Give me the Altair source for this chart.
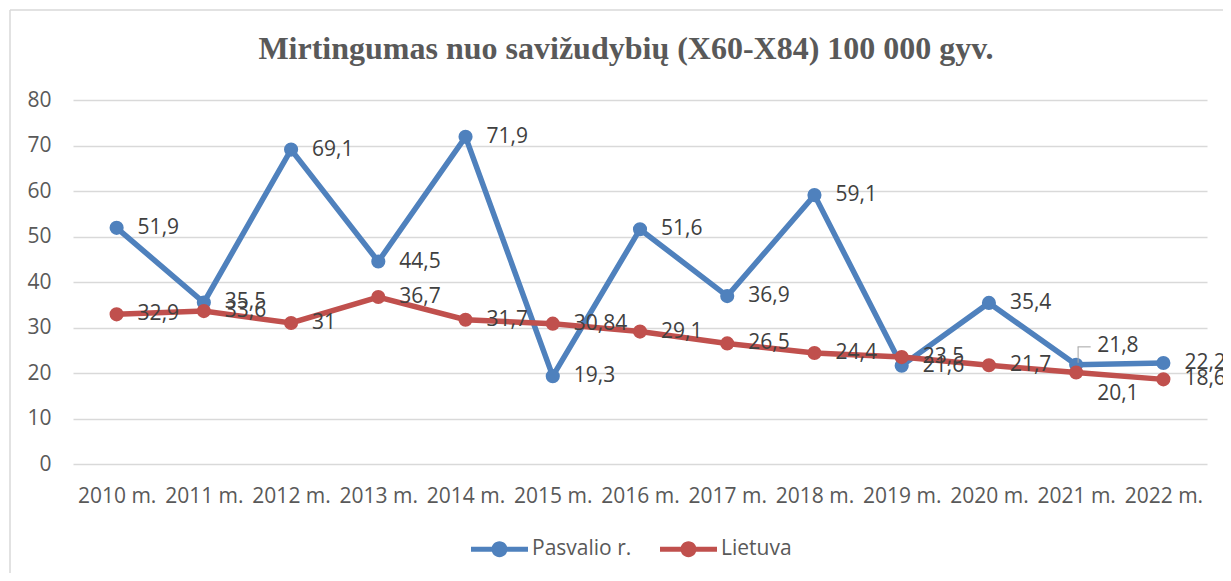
import altair as alt
import pandas as pd

years = ["2010 m.", "2011 m.", "2012 m.", "2013 m.", "2014 m.", "2015 m.", "2016 m.",
         "2017 m.", "2018 m.", "2019 m.", "2020 m.", "2021 m.", "2022 m."]
pasvalio = [51.9, 35.5, 69.1, 44.5, 71.9, 19.3, 51.6, 36.9, 59.1, 21.6, 35.4, 21.8, 22.2]
lietuva = [32.9, 33.6, 31, 36.7, 31.7, 30.84, 29.1, 26.5, 24.4, 23.5, 21.7, 20.1, 18.6]
series_names = ["Pasvalio r.", "Lietuva"]
colors = ["#4f81bd", "#c0504d"]
y_ticks = [0, 10, 20, 30, 40, 50, 60, 70, 80]
title_text = "Mirtingumas nuo savižudybių (X60-X84) 100 000 gyv."

rows = []
for name, vals in zip(series_names, [pasvalio, lietuva]):
    for yr, v in zip(years, vals):
        rows.append({"year": yr, "series": name, "value": v,
                     "label": f"{v:g}".replace(".", ",")})
df = pd.DataFrame(rows)

FONT = "Open Sans"
TXT = "#595959"
W, H = 1134, 364
PAD = {"left": 65, "top": 92, "right": 16, "bottom": 109}

x_enc = alt.X("year:N", sort=years, scale=alt.Scale(type="point", padding=0.5),
              axis=alt.Axis(title=None, labelAngle=0, ticks=False, domain=False, grid=False,
                            labelPadding=21, labelFontSize=21, labelFont=FONT,
                            labelColor=TXT, labelOverlap=False, labelFlush=False))
y_enc = alt.Y("value:Q", scale=alt.Scale(domain=[0, 80], nice=False),
              axis=alt.Axis(title=None, values=y_ticks, domain=False, ticks=False,
                            labelPadding=22, labelFontSize=21, labelFont=FONT,
                            labelColor=TXT, gridColor="#d9d9d9", gridWidth=1.5))

legend_path = ("M-1,-0.09 L1,-0.09 L1,0.09 L-1,0.09 Z "
               "M0.28,0 A0.28,0.28 0 1,1 -0.28,0 A0.28,0.28 0 1,1 0.28,0 Z")
fill_enc = alt.Fill("series:N", scale=alt.Scale(domain=series_names, range=colors),
                    legend=alt.Legend(title=None, orient="none", legendX=398, legendY=420.5,
                                      direction="horizontal", symbolType=legend_path,
                                      symbolSize=3249, symbolStrokeWidth=0, symbolOpacity=1,
                                      labelFontSize=21, labelFont=FONT, labelColor=TXT,
                                      labelOffset=4, columnPadding=28, padding=0))

base = alt.Chart(df)
layers = []
for name, col in zip(series_names, colors):
    sub = base.transform_filter(alt.datum.series == name)
    layers.append(sub.mark_line(color=col, strokeWidth=5.5).encode(x=x_enc, y=y_enc))
    layers.append(sub.mark_circle(size=200, opacity=1).encode(x=x_enc, y=y_enc, fill=fill_enc))

lbl = dict(align="left", baseline="middle", dx=21, fontSize=21, font=FONT, color="#404040")
layers.append(base.transform_filter(alt.datum.year != "2021 m.")
              .mark_text(**lbl).encode(x=x_enc, y=y_enc, text="label:N"))
p21 = base.transform_filter((alt.datum.year == "2021 m.") & (alt.datum.series == "Pasvalio r."))
l21 = base.transform_filter((alt.datum.year == "2021 m.") & (alt.datum.series == "Lietuva"))
layers.append(p21.mark_text(dy=-19, **lbl).encode(x=x_enc, y=y_enc, text="label:N"))
layers.append(l21.mark_text(dy=21, **lbl).encode(x=x_enc, y=y_enc, text="label:N"))
# leader line
layers.append(p21.mark_tick(orient="vertical", size=16, thickness=1.5, color="#a6a6a6",
                            xOffset=2, yOffset=-10).encode(x=x_enc, y=y_enc))
layers.append(p21.mark_tick(orient="horizontal", size=13, thickness=1.5, color="#a6a6a6",
                            xOffset=8, yOffset=-18).encode(x=x_enc, y=y_enc))

# chart frame (left and top edges)
frame = alt.Chart(alt.Data(values=[{"k": 1}]))
layers.append(frame.mark_rule(color="#d9d9d9", strokeWidth=1.5)
              .encode(x=alt.value(-63), x2=alt.value(W + PAD["right"]), y=alt.value(-90)))
layers.append(frame.mark_rule(color="#d9d9d9", strokeWidth=1.5)
              .encode(x=alt.value(-63), y=alt.value(-90), y2=alt.value(H + PAD["bottom"])))

chart = alt.layer(*layers).properties(
    width=W, height=H,
    title=alt.Title(title_text, font="Liberation Serif", fontSize=32, fontWeight="bold",
                    color=TXT, anchor="middle", dx=-14, offset=-57),
    autosize=alt.AutoSizeParams(type="none"),
    padding=PAD,
).configure_view(stroke=None)

chart.save("out.html", embed_options={"renderer": "svg", "actions": False})
